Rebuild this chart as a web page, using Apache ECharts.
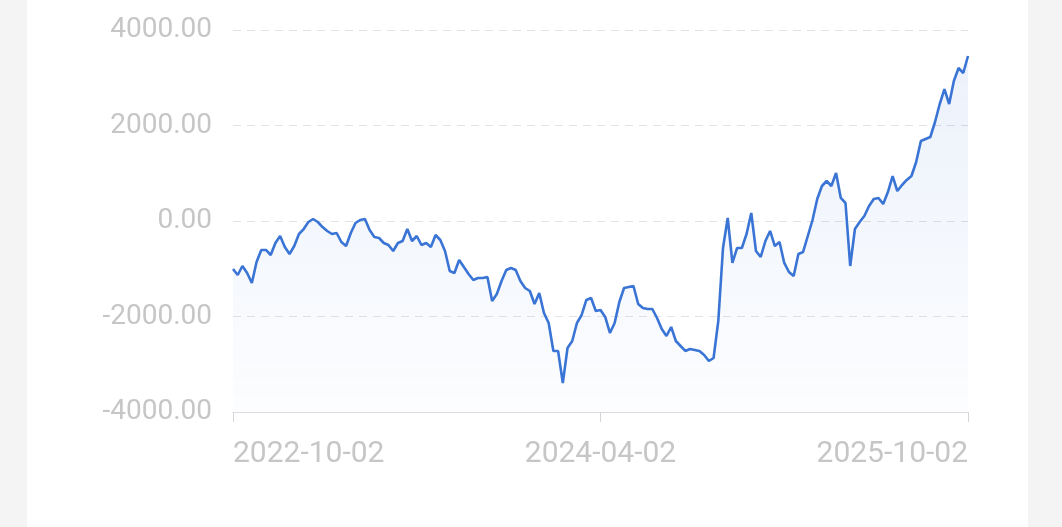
<!DOCTYPE html>
<html>
<head>
<meta charset="utf-8">
<script src="https://cdn.jsdelivr.net/npm/echarts@6/dist/echarts.min.js"></script>
<style>
  html, body { margin: 0; padding: 0; width: 1062px; height: 527px; overflow: hidden; }
  body { background: linear-gradient(to right, #f4f4f4 0px, #f4f4f4 27px, #ffffff 27px, #ffffff 1028px, #f4f4f4 1028px); }
  #chart { position: absolute; left: 0; top: 0; width: 1062px; height: 527px; }
</style>
</head>
<body>
<div id="chart"></div>
<script>
// ---- data ----
const startDate = '2022-10-02';
const endDate = '2025-10-02';
const labelDates = ['2022-10-02', '2024-04-02', '2025-10-02'];
const yTicks = [-4000, -2000, 0, 2000, 4000];
const values = [
  -1005, -1131, -942, -1089, -1298, -859, -607, -607, -712, -461,
  -314, -544, -691, -524, -272, -168, -21, 42, -21, -126,
  -209, -272, -251, -440, -524, -251, -42, 21, 42, -188,
  -335, -356, -461, -503, -628, -461, -419, -168, -419, -314,
  -503, -461, -544, -293, -398, -628, -1047, -1089, -817, -963,
  -1110, -1235, -1194, -1194, -1173, -1675, -1529, -1256, -1026, -984,
  -1026, -1256, -1403, -1466, -1738, -1508, -1926, -2136, -2722, -2722,
  -3392, -2659, -2513, -2136, -1968, -1654, -1612, -1885, -1864, -2010,
  -2345, -2136, -1696, -1403, -1382, -1361, -1738, -1822, -1843, -1843,
  -2031, -2262, -2408, -2220, -2513, -2618, -2722, -2680, -2701, -2722,
  -2806, -2932, -2869, -2094, -565, 63, -879, -565, -565, -272,
  168, -628, -754, -419, -209, -524, -440, -879, -1068, -1152,
  -691, -649, -314, 21, 461, 733, 838, 733, 1005, 482,
  377, -942, -168, -21, 105, 314, 461, 482, 356, 607,
  942, 628, 754, 859, 942, 1235, 1675, 1717, 1759, 2073,
  2450, 2764, 2450, 2932, 3204, 3099, 3455
];

// category dates spread evenly between start and end
const t0 = Date.parse(startDate + 'T00:00:00Z');
const t1 = Date.parse(endDate + 'T00:00:00Z');
const n = values.length;
const categories = values.map((v, i) => {
  const t = t0 + Math.round((t1 - t0) / 86400000 * i / (n - 1)) * 86400000;
  return new Date(t).toISOString().slice(0, 10);
});
categories[0] = labelDates[0];
categories[Math.round((n - 1) / 2)] = labelDates[1];
categories[n - 1] = labelDates[2];
const shown = new Set([0, Math.round((n - 1) / 2), n - 1]);

const chart = echarts.init(document.getElementById('chart'), null, { renderer: 'canvas' });
chart.setOption({
  animation: false,
  backgroundColor: 'transparent',
  grid: { left: 233, right: 94, top: 30, bottom: 115, containLabel: false },
  xAxis: {
    type: 'category',
    data: categories,
    boundaryGap: false,
    axisLine: { show: true, onZero: false, lineStyle: { color: '#dcdcdc', width: 1 } },
    axisTick: { show: true, length: 10, lineStyle: { color: '#d6d6d6' }, interval: (i) => shown.has(i) },
    axisLabel: {
      interval: (i) => shown.has(i),
      color: '#c6c6c6',
      fontFamily: 'Roboto',
      fontSize: 30,
      margin: 27,
      alignMinLabel: 'left',
      alignMaxLabel: 'right'
    },
    splitLine: { show: false }
  },
  yAxis: {
    type: 'value',
    min: yTicks[0],
    max: yTicks[yTicks.length - 1],
    interval: yTicks[1] - yTicks[0],
    axisLine: { show: false },
    axisTick: { show: false },
    axisLabel: {
      color: '#c6c6c6',
      fontFamily: 'Roboto',
      fontSize: 28,
      margin: 21,
      formatter: (v) => v.toFixed(2)
    },
    splitLine: { show: true, lineStyle: { color: '#e2e2e2', type: [8, 6], width: 1 } }
  },
  series: [{
    type: 'line',
    data: values,
    showSymbol: false,
    symbol: 'none',
    smooth: false,
    lineStyle: { color: '#3a74d5', width: 2.6 },
    itemStyle: { color: '#3a74d5' },
    areaStyle: {
      origin: 'start',
      color: new echarts.graphic.LinearGradient(0, 0, 0, 1, [
        { offset: 0, color: 'rgba(59,118,214,0.14)' },
        { offset: 1, color: 'rgba(59,118,214,0.02)' }
      ])
    }
  }]
});
</script>
</body>
</html>
